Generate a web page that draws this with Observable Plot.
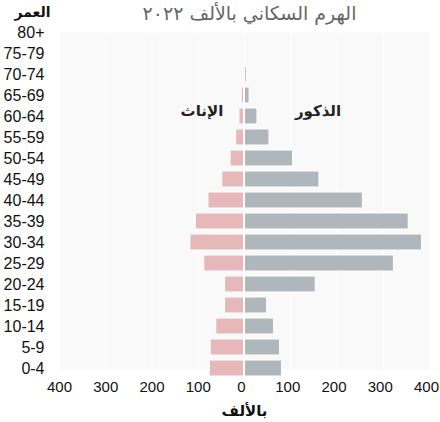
<!DOCTYPE html>
<html>
<head>
<meta charset="utf-8">
<script src="https://cdn.jsdelivr.net/npm/d3@7"></script>
<script src="https://cdn.jsdelivr.net/npm/@observablehq/plot@0.6"></script>
<style>
  html, body { margin: 0; padding: 0; background: #fff; }
  #chart svg { display: block; }
</style>
</head>
<body>
<div id="chart"></div>
<script>
const ages = ["0-4","5-9","10-14","15-19","20-24","25-29","30-34","35-39","40-44","45-49","50-54","55-59","60-64","65-69","70-74","75-79","80+"];
const male = [81, 77, 64, 49, 154, 323, 384, 355, 256, 162, 105, 54, 28, 11, 5, 1, 0];
const female = [75, 73, 61, 42, 42, 87, 117, 105, 78, 48, 30, 18, 11, 6, 1, 0, 0];
const xTicksNeg = [-400, -300, -200, -100];
const xTicksPos = [0, 100, 200, 300, 400];
const title = "الهرم السكاني بالألف ٢٠٢٢";
const yLabel = "العمر";
const xLabel = "بالألف";
const femaleLabel = "الإناث";
const maleLabel = "الذكور";

const maleData = ages.map((a, i) => ({age: a, value: male[i]}));
const femaleData = ages.map((a, i) => ({age: a, value: -female[i]}));

const chart = Plot.plot({
  width: 440,
  height: 422,
  marginLeft: 59,
  marginRight: 11,
  marginTop: 21.5,
  marginBottom: 43.5,
  style: {fontFamily: "Liberation Sans, Arial, DejaVu Sans, sans-serif", background: "#fff"},
  x: {domain: [-400, 400], axis: null},
  y: {domain: ages.slice().reverse(), paddingInner: 0.24, paddingOuter: 0.12, axis: null},
  marks: [
    Plot.frame({fill: "#f9f9f9", stroke: null, insetTop: 10.5, insetBottom: 9.5}),
    Plot.ruleX([...xTicksNeg, ...xTicksPos], {stroke: "#ffffff", strokeWidth: 1, insetTop: 10.5, insetBottom: 9.5}),
    Plot.barX(femaleData, {x: "value", y: "age", fill: "#e6b8b9", stroke: "#ffffff", strokeWidth: 1, insetRight: 0.5}),
    Plot.barX(maleData, {x: "value", y: "age", fill: "#b0b7bc", stroke: "#ffffff", strokeWidth: 1, insetLeft: 0.5}),
    Plot.axisY({tickSize: 0, tickPadding: 15, fontSize: 16, fill: "#111", label: null}),
    Plot.axisX(xTicksNeg, {tickSize: 0, tickPadding: 2, fontSize: 15, fill: "#111", tickFormat: d => Math.abs(d), label: null}),
    Plot.axisX(xTicksPos, {tickSize: 0, tickPadding: 2, fontSize: 15, fill: "#111", tickFormat: d => Math.abs(d), label: null, dx: -3}),
    Plot.text([title], {frameAnchor: "top", lineAnchor: "middle", dy: -8, dx: 5, fontSize: 19, fill: "#666", fontFamily: "DejaVu Sans, sans-serif"}),
    Plot.text([yLabel], {frameAnchor: "top-left", lineAnchor: "middle", dx: -27, dy: -9, textAnchor: "middle", fontSize: 14, fontWeight: "bold", fill: "#111", fontFamily: "DejaVu Sans, sans-serif"}),
    Plot.text([xLabel], {frameAnchor: "bottom", lineAnchor: "middle", dy: 32, fontSize: 15, fontWeight: "bold", fill: "#111", fontFamily: "DejaVu Sans, sans-serif"}),
    Plot.text([femaleLabel], {x: -92, y: () => "60-64", dy: -5, fontSize: 15, fontWeight: "bold", fill: "#222", fontFamily: "DejaVu Sans, sans-serif"}),
    Plot.text([maleLabel], {x: 159, y: () => "60-64", dy: -5, fontSize: 15, fontWeight: "bold", fill: "#222", fontFamily: "DejaVu Sans, sans-serif"})
  ]
});
document.getElementById("chart").appendChild(chart);
</script>
</body>
</html>
